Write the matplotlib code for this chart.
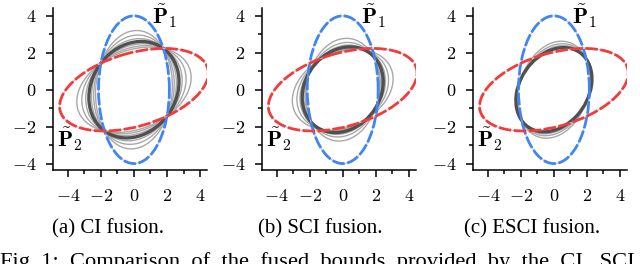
import numpy as np
import matplotlib
matplotlib.use('Agg')
import matplotlib.pyplot as plt
from matplotlib.patches import Ellipse
from matplotlib.ticker import MultipleLocator, FuncFormatter

plt.rcParams['font.family'] = 'serif'
plt.rcParams['font.serif'] = ['Liberation Serif', 'DejaVu Serif']
plt.rcParams['mathtext.fontset'] = 'cm'

# covariances of the two estimates (read off the dashed ellipses)
P1 = np.array([[4.6, 0.0], [0.0, 16.0]])
P2 = np.array([[20.25, 4.05], [4.05, 5.0]])
# independent part used for the split CI
P_ind = np.array([[2.0, 0.0], [0.0, 2.0]])

ci_weights = [0.2, 0.3, 0.4, 0.6, 0.7, 0.8]
ci_best = 0.5
sci_weights = [0.2, 0.3, 0.4, 0.6, 0.7, 0.8]
sci_best = 0.5

# ESCI results
esci_thin = [
    [[4.8, 1.2], [1.2, 6.9]],
    [[5.0, 1.3], [1.3, 6.2]],
    [[5.2, 1.35], [1.35, 5.7]],
]
esci_best = [[5.3, 1.35], [1.35, 5.2]]

captions = ['(a) CI fusion.', '(b) SCI fusion.', '(c) ESCI fusion.']
footer = ('Fig. 1:  Comparison  of  the  fused  bounds  provided  '
          'by  the  CI,  SCI')


def ci(w):
    inv = w * np.linalg.inv(P1) + (1 - w) * np.linalg.inv(P2)
    return np.linalg.inv(inv)


def sci(w):
    a = (P1 - P_ind) / w + P_ind
    b = (P2 - P_ind) / (1 - w) + P_ind
    return np.linalg.inv(np.linalg.inv(a) + np.linalg.inv(b))


def cov_ellipse(ax, P, **kw):
    P = np.asarray(P)
    vals, vecs = np.linalg.eigh(P)
    ang = np.degrees(np.arctan2(vecs[1, 1], vecs[0, 1]))
    e = Ellipse((0, 0), 2 * np.sqrt(vals[1]), 2 * np.sqrt(vals[0]), angle=ang,
                fill=False, **kw)
    ax.add_patch(e)


thin = dict(edgecolor='#a8a8a8', lw=1.0)
thick = dict(edgecolor='#505050', lw=2.4)

panels = [
    ([ci(w) for w in ci_weights], ci(ci_best)),
    ([sci(w) for w in sci_weights], sci(sci_best)),
    (esci_thin, esci_best),
]

fig = plt.figure(figsize=(6.4, 2.64), dpi=100)
lefts = [0.0828, 0.409, 0.739]
cap_x = [108 / 640, 320 / 640, 532 / 640]

for i, (thins, best) in enumerate(panels):
    ax = fig.add_axes([lefts[i], 0.356, 0.2406, 0.614])
    for P in thins:
        cov_ellipse(ax, P, **thin)
    cov_ellipse(ax, best, **thick)
    for P, c in [(P1, '#3f86f2'), (P2, '#f23c3c')]:
        cov_ellipse(ax, P, edgecolor='#c4c4c4', lw=0.8)
        cov_ellipse(ax, P, edgecolor=c, lw=2.0, linestyle=(0, (4.5, 0.9)))

    ax.text(1.1, 3.55, r'$\tilde{\mathbf{P}}_\mathbf{1}$', fontsize=16)
    ax.text(-4.65, -3.1, r'$\tilde{\mathbf{P}}_\mathbf{2}$', fontsize=16)

    ax.set_xlim(-4.9, 4.42)
    ax.set_ylim(-4.35, 4.43)
    ax.xaxis.set_major_locator(MultipleLocator(2))
    ax.yaxis.set_major_locator(MultipleLocator(2))
    ax.xaxis.set_minor_locator(MultipleLocator(1))
    ax.yaxis.set_minor_locator(MultipleLocator(1))
    fmt = FuncFormatter(lambda v, p: '$%d$' % v)
    ax.xaxis.set_major_formatter(fmt)
    ax.yaxis.set_major_formatter(fmt)
    ax.tick_params(which='major', length=5, width=1.1, labelsize=13)
    ax.tick_params(axis='x', which='major', pad=8)
    ax.tick_params(axis='y', which='major', pad=7)
    ax.tick_params(which='minor', length=3, width=1.1)
    ax.spines['top'].set_visible(False)
    ax.spines['right'].set_visible(False)
    ax.spines['left'].set_linewidth(1.1)
    ax.spines['bottom'].set_linewidth(1.1)

    fig.text(cap_x[i], 1 - 229 / 264, captions[i], ha='center', va='center',
             fontsize=15)

fig.text(0.0, 1 - 252 / 264, footer, ha='left', va='top', fontsize=16.2)

plt.savefig('out.png', dpi=100)
